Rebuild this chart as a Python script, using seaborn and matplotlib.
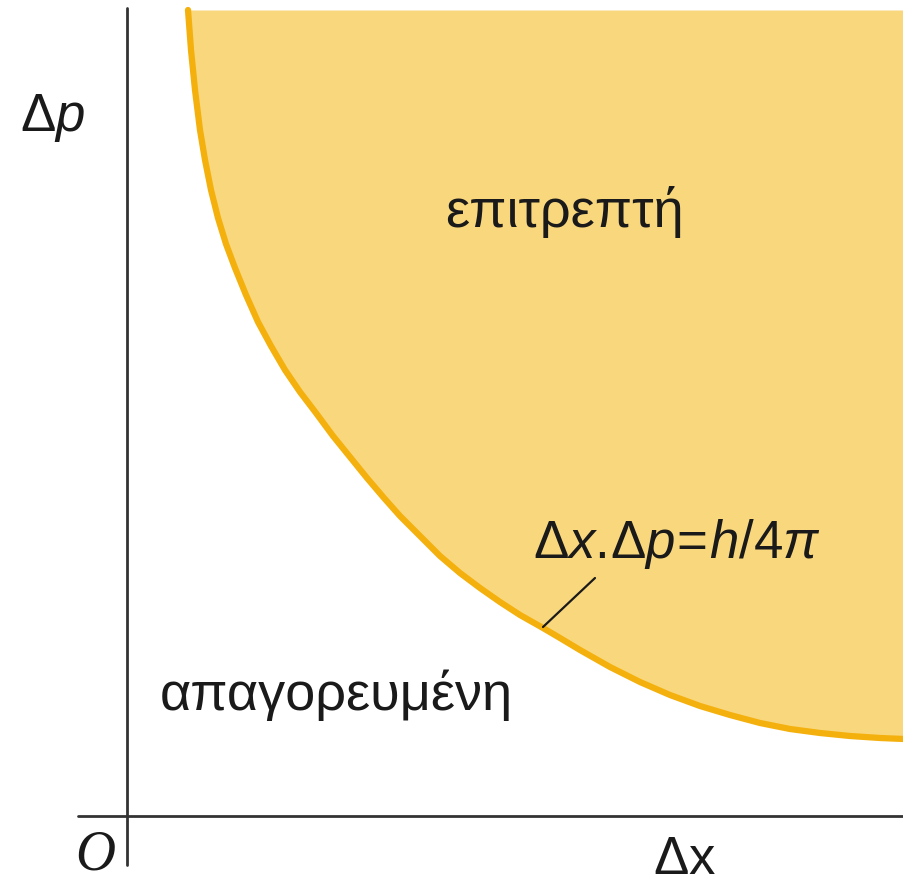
import numpy as np
import pandas as pd
import seaborn as sns
import matplotlib
matplotlib.use("Agg")
import matplotlib.pyplot as plt

# boundary curve dx*dp = h/4pi (arbitrary units, origin at O)
dx = [61, 64, 68, 73, 78, 84, 91, 99, 108, 119, 131, 144, 158, 173, 189,
      206, 223, 240, 257, 273, 293, 313, 333, 353, 373, 393, 416, 433, 453,
      483, 513, 543, 573, 603, 633, 663, 693, 723, 753, 777]
dp = [806, 766, 726, 686, 656, 626, 598, 572, 548, 521, 494, 470, 446, 424,
      403, 380, 359, 338, 318, 300, 280, 260, 243, 228, 214, 201, 188, 178,
      166, 149, 134, 121, 110, 101, 93, 87, 83, 80, 78, 77]

label_allowed = "επιτρεπτή"
label_forbidden = "απαγορευμένη"
label_formula = r"$\mathrm{\Delta}x.\!\mathrm{\Delta}p\!=\!h/\mathit{4}\pi$"
label_x = r"$\mathrm{\Delta x}$"
label_y = r"$\mathrm{\Delta}p$"
label_origin = "O"

df = pd.DataFrame({"dx": dx, "dp": dp})

sns.set_style("white")
plt.rcParams["font.family"] = ["Liberation Sans", "DejaVu Sans"]
plt.rcParams["mathtext.fontset"] = "custom"
plt.rcParams["mathtext.rm"] = "Liberation Sans"
plt.rcParams["mathtext.it"] = "Liberation Sans:italic"

fill_col = "#F9D77C"
edge_col = "#F4B00C"
ink = "#1a1a1a"

fig = plt.figure(figsize=(9.04, 8.86), dpi=100)
ax = fig.add_axes([0, 0, 1, 1])
ax.set_xlim(-127, 777)
ax.set_ylim(-70, 816)
ax.axis("off")

# allowed region
ax.fill_between(df["dx"], df["dp"], 806, color=fill_col, lw=0, zorder=1)
sns.lineplot(data=df, x="dx", y="dp", sort=False, color=edge_col, lw=4.5,
             ax=ax, zorder=2)

# axes
ax.plot([0, 0], [-49, 808], color="#333333", lw=2, zorder=3)
ax.plot([-49, 777], [0, 0], color="#333333", lw=2, zorder=3)

# leader line to the curve
ax.plot([416, 468], [189, 238], color=ink, lw=1.6, zorder=3)

ax.text(-107, 685, label_y, fontsize=38, color=ink, ha="left", va="baseline")
ax.text(526, -58, label_x, fontsize=38, color=ink, ha="left", va="baseline")
ax.text(-52, -54, label_origin, fontsize=40, color=ink, ha="left",
        va="baseline", family="Liberation Serif", style="italic")
ax.text(318, 589, label_allowed, fontsize=39, color=ink, ha="left", va="baseline")
ax.text(33, 106, label_forbidden, fontsize=39, color=ink, ha="left", va="baseline")
ax.text(406, 258, label_formula, fontsize=38, color=ink, ha="left", va="baseline")

fig.savefig("out.png", dpi=100)
